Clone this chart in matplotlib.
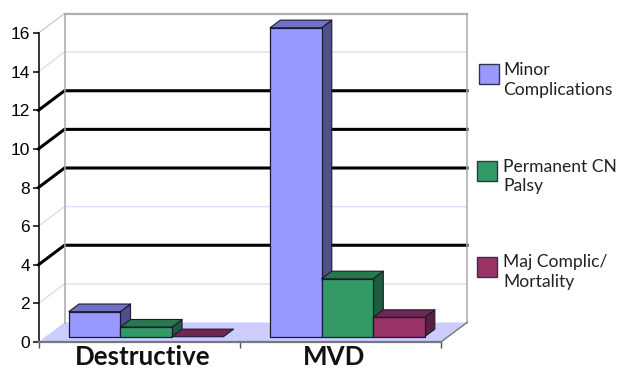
import matplotlib.pyplot as plt
from matplotlib.patches import Polygon, Rectangle

categories = ["Destructive", "MVD"]
minor_compl = [1.3, 16]
cn_palsy = [0.5, 3]
maj_compl = [0, 1]
series_names = ["Minor\nComplications", "Permanent CN\nPalsy", "Maj Complic/\nMortality"]
y_ticks = [0, 2, 4, 6, 8, 10, 12, 14, 16]
heavy_grid = [4, 8, 10, 12]
light_grid = [2, 6, 14]

# front, side, top
blue = ("#9999ff", "#4f4f8c", "#7272c4")
green = ("#339966", "#1d5c3c", "#27784f")
maroon = ("#993366", "#591f3c", "#732650")

W, H = 623, 368
X0, X1, Y0, Y16 = 38.5, 441, 342, 33

# oblique offset of the back wall, in data units
DX = 26 / ((X1 - X0) / 2)
DY = 19.5 / ((Y0 - Y16) / 16)
BAR_W = 0.256
BAR_NEAR, BAR_FAR = 0.27, 0.66


def pt(x, y, d=0.0):
    return (x + d * DX, y + d * DY)


def poly(ax, pts, fc, ec="none", lw=0, z=2):
    ax.add_patch(Polygon(pts, closed=True, fc=fc, ec=ec, lw=lw, zorder=z,
                         clip_on=False, joinstyle="round"))


def wall_line(ax, y, color, lw):
    ax.plot(*zip(pt(0, y), pt(0, y, 1), pt(2, y, 1)), color=color, lw=lw,
            clip_on=False, zorder=1.5, solid_joinstyle="round")


def bar(ax, x, val, cols, z):
    edge = "#1a1a33"
    a, b = x, x + BAR_W
    n, f = BAR_NEAR, BAR_FAR
    if val > 0:
        poly(ax, [pt(b, 0, n), pt(b, 0, f), pt(b, val, f), pt(b, val, n)], cols[1], edge, 0.8, z)
    poly(ax, [pt(a, val, n), pt(b, val, n), pt(b, val, f), pt(a, val, f)], cols[2], edge, 0.8, z)
    if val > 0:
        poly(ax, [pt(a, 0, n), pt(b, 0, n), pt(b, val, n), pt(a, val, n)], cols[0], edge, 0.9, z)


fig = plt.figure(figsize=(W / 100, H / 100), dpi=100)
ax = fig.add_axes([X0 / W, 1 - Y0 / H, (X1 - X0) / W, (Y0 - Y16) / H])
ax.set_xlim(0, 2)
ax.set_ylim(0, 16)
ax.patch.set_visible(False)
for name in ["top", "right"]:
    ax.spines[name].set_visible(False)
ax.spines["left"].set_linewidth(1.1)
ax.spines["bottom"].set_color("#777777")
ax.spines["bottom"].set_linewidth(1.6)

# floor and back wall
poly(ax, [pt(0, 0), pt(2, 0), pt(2, 0, 1), pt(0, 0, 1)], "#ccccff", z=1)
for y in light_grid:
    wall_line(ax, y, "#ddddf8", 1.0)
for y in heavy_grid:
    wall_line(ax, y, "black", 2.2)
ax.plot(*zip(pt(0, 16), pt(0, 16, 1)), color="#c4c4c4", lw=0.8, clip_on=False, zorder=1.5)
ax.plot(*zip(pt(0, 16, 1), pt(2, 16, 1)), color="#b0b0b0", lw=1.6, clip_on=False, zorder=1.5)
ax.plot(*zip(pt(0, 0, 1), pt(0, 16, 1)), color="#a8a8a8", lw=1.1, clip_on=False, zorder=1.6)
ax.plot(*zip(pt(2, 0, 1), pt(2, 16, 1)), color="#a8a8a8", lw=1.1, clip_on=False, zorder=1.6)
ax.plot(*zip(pt(2, 0), pt(2, 0, 1)), color="#777777", lw=1.0, clip_on=False, zorder=1.6)

for i in range(len(categories)):
    start = i + 0.5 - 1.5 * BAR_W
    bar(ax, start, minor_compl[i], blue, 3)
    bar(ax, start + BAR_W, cn_palsy[i], green, 4)
    bar(ax, start + 2 * BAR_W, maj_compl[i], maroon, 5)

ax.set_yticks(y_ticks)
ax.tick_params(axis="y", length=4, width=1.1, pad=2, labelsize=12.5)
for lab in ax.get_yticklabels():
    lab.set_family("Liberation Sans")
ax.set_xticks([0, 1, 2])
ax.set_xticklabels([])
ax.tick_params(axis="x", length=4, width=1.0, color="#555555")

label_shift = [4, -6]
for i, c in enumerate(categories):
    ax.annotate(c, (i + 0.5, 0), xytext=(label_shift[i], -23), textcoords="offset pixels",
                ha="center", va="baseline", family="Lato", weight="bold", fontsize=18.6,
                color="#111111", annotation_clip=False)

# legend keys and labels placed by hand, the wall leaves little room
key_boxes = [(479, 64), (477, 161), (477, 257)]
first_base = [75, 172, 267]
for name, cols, (kx, ky), base in zip(series_names, (blue, green, maroon), key_boxes, first_base):
    fig.add_artist(Rectangle((kx / W, 1 - (ky + 20) / H), 20 / W, 20 / H, fc=cols[0],
                             ec="#33334d", lw=1.0, transform=fig.transFigure))
    for j, line in enumerate(name.split("\n")):
        fig.text(503 / W, 1 - (base + j * 19.5) / H, line, family="Lato", fontsize=12.6,
                 color="#222222", ha="left", va="baseline")

fig.savefig("out.png", dpi=100)
